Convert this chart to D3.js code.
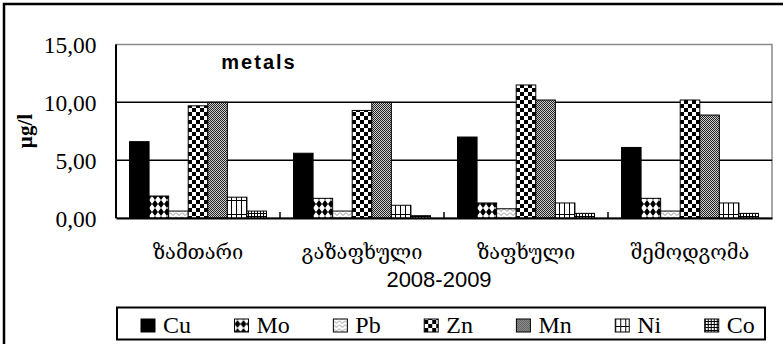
<!DOCTYPE html>
<html>
<head>
<meta charset="utf-8">
<script src="https://cdn.jsdelivr.net/npm/d3@7"></script>
<style>
  html, body { margin: 0; padding: 0; background: #fff; }
  svg { display: block; }
</style>
</head>
<body>
<svg id="chart" width="783" height="344"></svg>
<script>
// Seasons (2008-2009) and measured metal concentrations, µg/l
const seasons = ["ზამთარი", "გაზაფხული", "ზაფხული", "შემოდგომა"];
const metals = ["Cu", "Mo", "Pb", "Zn", "Mn", "Ni", "Co"];
const cu = [6.6, 5.6, 7.0, 6.1];
const mo = [1.9, 1.7, 1.3, 1.7];
const pb = [0.6, 0.6, 0.8, 0.6];
const zn = [9.7, 9.3, 11.5, 10.2];
const mn = [10.0, 10.0, 10.2, 8.9];
const ni = [1.8, 1.1, 1.3, 1.3];
const co = [0.6, 0.2, 0.4, 0.4];
const yTicks = [0, 5, 10, 15];

const seriesValues = { Cu: cu, Mo: mo, Pb: pb, Zn: zn, Mn: mn, Ni: ni, Co: co };

const SERIF = "'Liberation Serif', 'Times New Roman', serif";
const SANS = "'Liberation Sans', Arial, sans-serif";

const svg = d3.select("#chart");
const defs = svg.append("defs");

// ---- fill patterns for each metal ----
function pattern(id, w, h, draw) {
  const p = defs.append("pattern")
    .attr("id", id).attr("patternUnits", "userSpaceOnUse")
    .attr("width", w).attr("height", h);
  draw(p);
}
pattern("p-mo", 6, 8, p => {
  p.append("rect").attr("width", 6).attr("height", 8).attr("fill", "#fff");
  p.append("path").attr("d", "M3,0 L6,4 L3,8 L0,4 Z").attr("fill", "#000");
});
pattern("p-pb", 6, 4, p => {
  p.append("rect").attr("width", 6).attr("height", 4).attr("fill", "#fff");
  p.append("path").attr("d", "M0,0.5 L3,3.5 L6,0.5").attr("fill", "none")
    .attr("stroke", "#888").attr("stroke-width", 0.9);
});
pattern("p-zn", 8, 8, p => {
  p.append("rect").attr("width", 8).attr("height", 8).attr("fill", "#fff");
  p.append("rect").attr("width", 4).attr("height", 4).attr("fill", "#000");
  p.append("rect").attr("x", 4).attr("y", 4).attr("width", 4).attr("height", 4).attr("fill", "#000");
});
pattern("p-mn", 2, 2, p => {
  p.append("rect").attr("width", 2).attr("height", 2).attr("fill", "#cfcfcf");
  p.append("rect").attr("width", 1).attr("height", 1).attr("fill", "#222");
  p.append("rect").attr("x", 1).attr("y", 1).attr("width", 1).attr("height", 1).attr("fill", "#222");
});
pattern("p-ni", 5, 14, p => {
  p.append("rect").attr("width", 5).attr("height", 14).attr("fill", "#fff");
  p.append("rect").attr("x", 0).attr("width", 1).attr("height", 14).attr("fill", "#000");
  p.append("rect").attr("y", 4).attr("width", 5).attr("height", 1).attr("fill", "#000");
});
pattern("p-co", 3, 3, p => {
  p.append("rect").attr("width", 3).attr("height", 3).attr("fill", "#fff");
  p.append("rect").attr("width", 1).attr("height", 3).attr("fill", "#000");
  p.append("rect").attr("width", 3).attr("height", 1).attr("fill", "#000");
});
const fills = {
  Cu: "#000", Mo: "url(#p-mo)", Pb: "url(#p-pb)", Zn: "url(#p-zn)",
  Mn: "url(#p-mn)", Ni: "url(#p-ni)", Co: "url(#p-co)"
};

// ---- outer frame ----
svg.append("rect").attr("x", 4).attr("y", 4).attr("width", 800).attr("height", 360)
  .attr("fill", "none").attr("stroke", "#000").attr("stroke-width", 2.5);

// ---- plot area ----
const plot = { left: 116, right: 772, top: 44.5, bottom: 218 };

const x = d3.scaleBand().domain(seasons).range([plot.left, plot.right]).padding(0);
const xInner = d3.scaleBand().domain(metals).range([0, x.bandwidth()])
  .paddingInner(0).paddingOuter(0.69);
const y = d3.scaleLinear().domain([0, 15]).range([plot.bottom, plot.top]);

// plot frame (grey)
svg.append("rect")
  .attr("x", plot.left).attr("y", plot.top)
  .attr("width", plot.right - plot.left).attr("height", plot.bottom - plot.top)
  .attr("fill", "none").attr("stroke", "#8a8a8a").attr("stroke-width", 1.5);

// horizontal gridlines
svg.append("g").selectAll("line")
  .data(yTicks.filter(t => t > 0 && t < 15))
  .join("line")
  .attr("x1", plot.left).attr("x2", plot.right)
  .attr("y1", d => y(d)).attr("y2", d => y(d))
  .attr("stroke", "#000").attr("stroke-width", 1.5);

// bars
const groups = svg.append("g").selectAll("g")
  .data(seasons)
  .join("g")
  .attr("transform", d => `translate(${x(d)},0)`);

groups.selectAll("rect")
  .data((s, i) => metals.map(m => ({ metal: m, value: seriesValues[m][i] })))
  .join("rect")
  .attr("x", d => xInner(d.metal))
  .attr("width", xInner.bandwidth())
  .attr("y", d => y(d.value))
  .attr("height", d => y(0) - y(d.value))
  .attr("fill", d => fills[d.metal])
  .attr("stroke", "#000").attr("stroke-width", 1);

// left axis line
svg.append("line")
  .attr("x1", plot.left).attr("x2", plot.left)
  .attr("y1", plot.top).attr("y2", plot.bottom)
  .attr("stroke", "#000").attr("stroke-width", 2);

// bottom axis with category tick marks between seasons
const xAxis = d3.axisBottom(x).tickSize(0).tickFormat("");
const xAxisG = svg.append("g").attr("transform", `translate(0,${plot.bottom})`).call(xAxis);
xAxisG.select(".domain").attr("stroke", "#000").attr("stroke-width", 2);
svg.append("g").selectAll("line")
  .data(seasons.slice(1))
  .join("line")
  .attr("x1", d => x(d)).attr("x2", d => x(d))
  .attr("y1", plot.bottom).attr("y2", plot.bottom - 6)
  .attr("stroke", "#000").attr("stroke-width", 1.5);

// y tick labels
const yAxis = d3.axisLeft(y).tickValues(yTicks).tickSize(0).tickPadding(19.5)
  .tickFormat(d => d3.format(".2f")(d).replace(".", ","));
const yAxisG = svg.append("g").attr("transform", `translate(${plot.left},0)`).call(yAxis);
yAxisG.select(".domain").remove();
yAxisG.selectAll("text")
  .style("font-family", SERIF)
  .style("font-size", "23.5px").attr("fill", "#000").attr("dy", "0.36em");

// category labels
svg.append("g").selectAll("text")
  .data(seasons)
  .join("text")
  .attr("x", d => x(d) + x.bandwidth() / 2)
  .attr("y", 259)
  .attr("text-anchor", "middle")
  .style("font-family", "'DejaVu Serif', 'DejaVu Sans', serif")
  .style("font-size", "20px")
  .text(d => d);

// x axis title
svg.append("text")
  .attr("x", 439).attr("y", 287)
  .attr("text-anchor", "middle")
  .style("font-family", SANS)
  .style("font-size", "22px")
  .text("2008-2009");

// y axis title
svg.append("text")
  .attr("transform", "translate(32,131) rotate(-90)")
  .attr("text-anchor", "middle")
  .style("font-family", SERIF)
  .style("font-weight", "bold")
  .style("font-size", "21px")
  .text("µg/l");

// chart title inside plot
svg.append("text")
  .attr("x", 259).attr("y", 69)
  .attr("text-anchor", "middle")
  .style("font-family", SANS)
  .style("font-weight", "bold")
  .style("font-size", "20px")
  .style("letter-spacing", "2px")
  .text("metals");

// legend: swatch + label, entries laid out by label width
const legend = svg.append("g");
legend.append("rect")
  .attr("x", 117).attr("y", 307.5).attr("width", 648).attr("height", 32)
  .attr("fill", "#fff").attr("stroke", "#000").attr("stroke-width", 2);
const items = legend.selectAll("g.item")
  .data(metals)
  .join("g").attr("class", "item");
items.append("rect")
  .attr("y", 319)
  .attr("width", 14).attr("height", 13)
  .attr("fill", d => fills[d])
  .attr("stroke", "#000").attr("stroke-width", 1);
items.append("text")
  .attr("x", 22).attr("y", 333)
  .style("font-family", SERIF)
  .style("font-size", "24px")
  .text(d => d);
let cursor = 141;
items.each(function () {
  const g = d3.select(this);
  g.attr("transform", `translate(${cursor},0)`);
  cursor += 22 + g.select("text").node().getComputedTextLength() + 43.5;
});
</script>
</body>
</html>
